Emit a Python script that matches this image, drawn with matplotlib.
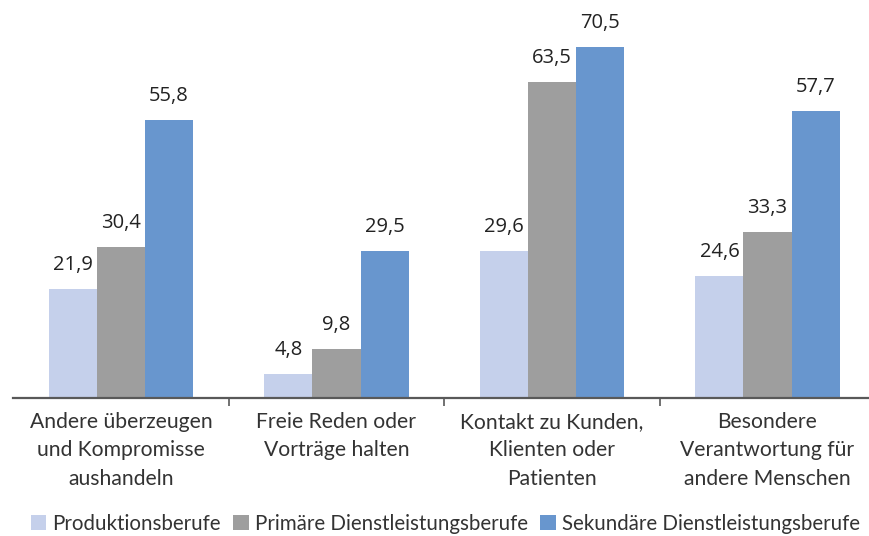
import matplotlib.pyplot as plt
import numpy as np

categories = [
    "Andere überzeugen\nund Kompromisse\naushandeln",
    "Freie Reden oder\nVorträge halten",
    "Kontakt zu Kunden,\nKlienten oder\nPatienten",
    "Besondere\nVerantwortung für\nandere Menschen",
]
series_names = ["Produktionsberufe", "Primäre Dienstleistungsberufe", "Sekundäre Dienstleistungsberufe"]
produktion = [21.9, 4.8, 29.6, 24.6]
primaer = [30.4, 9.8, 63.5, 33.3]
sekundaer = [55.8, 29.5, 70.5, 57.7]
colors = ["#C5D0EB", "#9E9E9E", "#6896CE"]

plt.rcParams['font.family'] = ['Open Sans', 'DejaVu Sans']

fig = plt.figure(figsize=(8.7, 5.36), dpi=100)
ax = fig.add_axes([13.25 / 870, 138 / 536, 862 / 870, 398 / 536])

x = np.arange(len(categories))
width = 0.223
for i, (vals, name) in enumerate(zip([produktion, primaer, sekundaer], series_names)):
    bars = ax.bar(x + (i - 1) * width, vals, width, color=colors[i], label=name)
    for b, v in zip(bars, vals):
        ax.annotate(f"{v:.1f}".replace(".", ","), (b.get_x() + b.get_width() / 2, v),
                    xytext=(0, 24), textcoords="offset pixels", ha="center", va="center",
                    fontsize=14.5, color="#222222", family=['Open Sans', 'DejaVu Sans'])

ax.set_xlim(-0.5, 3.5)
ax.set_ylim(0, 80)
for s in ["top", "right", "left"]:
    ax.spines[s].set_visible(False)
ax.spines["bottom"].set_color("#595959")
ax.spines["bottom"].set_linewidth(1.6)
ax.set_yticks([])
ax.set_xticks(x)
ax.set_xticklabels(categories, fontsize=15.2, color="#333333", linespacing=1.53,
                   family=['Lato', 'DejaVu Sans'])
ax.tick_params(axis="x", which="major", length=0, pad=10)
ax.set_xticks([0.5, 1.5, 2.5], minor=True)
ax.tick_params(axis="x", which="minor", length=6, width=1.2, color="#595959", direction="out")

fig.legend(loc="lower center", bbox_to_anchor=(0.512, -0.03), ncol=3, frameon=False,
           handlelength=0.75, handleheight=0.75, handletextpad=0.3, columnspacing=0.6,
           prop={'family': ['Lato', 'DejaVu Sans'], 'size': 14.8}, labelcolor="#333333")

fig.savefig("out.png", dpi=100)
